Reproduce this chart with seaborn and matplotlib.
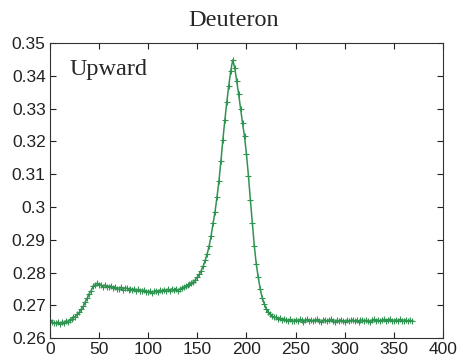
"""Deuteron upward profile, redrawn with seaborn."""
import matplotlib
matplotlib.use('Agg')
import matplotlib.pyplot as plt
import seaborn as sns

# x positions of the samples (every 2 units from 0 to 368)
channel = list(range(0, 370, 2))

counts = [
    # 0 - 24
    0.2654, 0.2649, 0.2647, 0.2645, 0.2649, 0.2644, 0.2648, 0.2646, 0.2652, 0.2649,
    0.2656, 0.2657, 0.2664,
    # 26 - 48 rise to shoulder
    0.2666, 0.2674, 0.2679, 0.2689, 0.2697, 0.2711, 0.2721, 0.2736, 0.2745, 0.2758,
    0.2763, 0.2767,
    # 50 - 130 plateau
    0.2761, 0.2763, 0.2756, 0.2762, 0.2756, 0.2757, 0.2759, 0.2753, 0.2757, 0.2751,
    0.2749, 0.2755, 0.2748, 0.2752, 0.2753, 0.2746, 0.2751, 0.2746, 0.2751, 0.2745,
    0.2749, 0.2744, 0.2743, 0.2747, 0.2741, 0.2740, 0.2744, 0.2739, 0.2743, 0.2745,
    0.2742, 0.2747, 0.2743, 0.2748, 0.2744, 0.2749, 0.2745, 0.2750, 0.2746, 0.2751,
    0.2744,
    # 132 - 186 rise to peak
    0.2749, 0.2752, 0.2756, 0.2758, 0.2761, 0.2764, 0.2769, 0.2772, 0.2778, 0.2786,
    0.2795, 0.2806, 0.2820, 0.2837, 0.2857, 0.2880, 0.2912, 0.2950, 0.2985, 0.3030,
    0.3080, 0.3140, 0.3205, 0.3265, 0.3320, 0.3370, 0.3415, 0.3448,
    # 188 - 238 fall
    0.3425, 0.3385, 0.3345, 0.3300, 0.3255, 0.3215, 0.3160, 0.3095, 0.3020, 0.2950,
    0.2880, 0.2825, 0.2785, 0.2750, 0.2723, 0.2705, 0.2690, 0.2680, 0.2673, 0.2668,
    0.2663, 0.2663, 0.2658, 0.2661, 0.2655, 0.2659,
    # 240 - 368 baseline
    0.2656, 0.2652, 0.2657, 0.2653, 0.2651, 0.2656, 0.2652, 0.2657, 0.2654, 0.2650,
    0.2655, 0.2657, 0.2652, 0.2656, 0.2651, 0.2655, 0.2657, 0.2652, 0.2650, 0.2655,
    0.2656, 0.2651, 0.2655, 0.2657, 0.2652, 0.2650, 0.2655, 0.2651, 0.2656, 0.2652,
    0.2650, 0.2655, 0.2651, 0.2654, 0.2656, 0.2651, 0.2655, 0.2650, 0.2654, 0.2656,
    0.2651, 0.2655, 0.2652, 0.2650, 0.2655, 0.2657, 0.2652, 0.2656, 0.2651, 0.2655,
    0.2657, 0.2652, 0.2656, 0.2658, 0.2653, 0.2651, 0.2656, 0.2652, 0.2657, 0.2653,
    0.2651, 0.2656, 0.2652, 0.2655, 0.2652,
]

xticks = [0, 50, 100, 150, 200, 250, 300, 350, 400]
yticks = [0.26, 0.27, 0.28, 0.29, 0.30, 0.31, 0.32, 0.33, 0.34, 0.35]
yticklabels = ['0.26', '0.27', '0.28', '0.29', '0.3', '0.31', '0.32', '0.33', '0.34', '0.35']

sns.set_style('ticks')
plt.rcParams['font.family'] = ['Liberation Sans', 'DejaVu Sans']

fig, ax = plt.subplots(figsize=(4.62, 3.64), dpi=100)
fig.subplots_adjust(left=0.108, right=0.959, top=0.882, bottom=0.071)

sns.lineplot(x=channel, y=counts, ax=ax, color='#2e9450', linewidth=1.1,
             marker='+', markersize=4, markeredgewidth=0.8, markeredgecolor='#2e9450')

ax.set_xlim(0, 400)
ax.set_ylim(0.26, 0.35)
ax.set_xticks(xticks)
ax.set_yticks(yticks)
ax.set_yticklabels(yticklabels)
ax.tick_params(direction='in', length=4.5, width=0.8, top=True, right=True,
               labelsize=12.5, colors='#222222', pad=3)
for side in ax.spines.values():
    side.set_visible(True)
    side.set_linewidth(0.8)
    side.set_color('#333333')

ax.set_title('Deuteron', fontfamily='Liberation Serif', fontsize=17.5, pad=12, x=0.466)
ax.text(0.051, 0.892, 'Upward', transform=ax.transAxes, ha='left', va='baseline',
        fontfamily='Liberation Serif', fontsize=17.5)

plt.savefig('out.png', dpi=100)
